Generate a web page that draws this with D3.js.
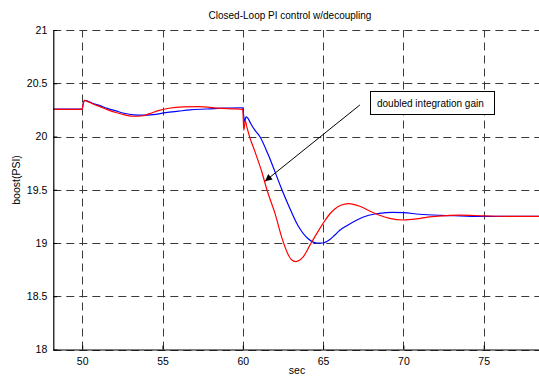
<!DOCTYPE html>
<html>
<head>
<meta charset="utf-8">
<script src="https://cdn.jsdelivr.net/npm/d3@7/dist/d3.min.js"></script>
<style>
  body { margin: 0; background: #fff; }
  text { font-family: "Liberation Sans", Arial, sans-serif; }
</style>
</head>
<body>
<script>
// time axis (sec) and the two boost responses
var tBlue = [48.2, 50.0, 50.05, 50.15, 50.3, 50.6, 51.1, 51.6, 52.1, 52.6, 53.2, 53.8, 54.4, 55.2, 56.0, 56.7, 57.7, 58.8, 59.9, 60.0,
             60.05, 60.12, 60.2, 60.3, 60.5, 60.75, 61.06, 61.58, 62.0, 62.41, 62.83, 63.45, 64.07, 64.6, 65.0, 65.4, 65.73,
             66.04, 66.5, 66.9, 67.3, 67.7, 68.5, 69.3, 70.0, 71.0, 72.3, 73.5, 75.0, 79.0];
var blue = [20.258, 20.258, 20.30, 20.34, 20.335, 20.315, 20.29, 20.262, 20.24, 20.218, 20.203, 20.2, 20.205, 20.224, 20.238, 20.25, 20.258, 20.266, 20.27, 20.27,
            20.2, 20.14, 20.185, 20.175, 20.12, 20.06, 20.0, 19.83, 19.67, 19.51, 19.36, 19.16, 19.04, 19.0, 19.0, 19.03, 19.075,
            19.12, 19.165, 19.2, 19.23, 19.254, 19.278, 19.288, 19.285, 19.27, 19.26, 19.255, 19.25, 19.25];

var tRed = [48.2, 50.0, 50.05, 50.15, 50.3, 50.6, 51.1, 51.6, 52.1, 52.6, 53.2, 53.8, 54.2, 54.8, 55.4, 56.3, 57.3, 58.4, 59.3, 60.0,
            60.06, 60.15, 60.25, 60.44, 60.75, 61.2, 61.5, 62.0, 62.41, 62.83, 63.05, 63.3, 63.55, 63.76, 64.18, 64.49, 65.0, 65.4,
            65.73, 66.1, 66.6, 67.28, 67.9, 68.52, 69.14, 69.97, 70.8, 71.6, 72.9, 73.5, 75.0, 76.5, 79.0];
var red = [20.255, 20.255, 20.30, 20.34, 20.33, 20.31, 20.28, 20.25, 20.225, 20.205, 20.19, 20.195, 20.215, 20.245, 20.265, 20.278, 20.28, 20.267, 20.26, 20.255,
           20.06, 20.15, 20.09, 19.99, 19.86, 19.66, 19.5, 19.28, 19.06, 18.89, 18.84, 18.825, 18.84, 18.87, 18.98, 19.06, 19.185, 19.27,
           19.32, 19.355, 19.37, 19.345, 19.3, 19.26, 19.232, 19.216, 19.226, 19.245, 19.26, 19.262, 19.255, 19.25, 19.25];

var xTicks = [50, 55, 60, 65, 70, 75];
var yTicks = [18, 18.5, 19, 19.5, 20, 20.5, 21];
var yTickLabels = ["18", "18.5", "19", "19.5", "20", "20.5", "21"];

var titleText = "Closed-Loop PI control w/decoupling";
var xLabel = "sec", yLabel = "boost(PSI)";
var noteText = "doubled integration gain";
var noteHead = [61.38, 19.58], noteTail = [67.29, 20.296];

var width = 539, height = 377;

var x = d3.scaleLinear().domain([48.2, 79]).range([53.3, 53.3 + 30.8 * 16.06]);
var y = d3.scaleLinear().domain([18, 21]).range([349.5, 30]);

var svg = d3.select("body").append("svg")
    .attr("width", width)
    .attr("height", height);

svg.append("defs").append("marker")
    .attr("id", "head")
    .attr("viewBox", "0 0 10 10")
    .attr("refX", 10).attr("refY", 5)
    .attr("markerWidth", 9).attr("markerHeight", 7)
    .attr("markerUnits", "userSpaceOnUse")
    .attr("orient", "auto")
  .append("path")
    .attr("d", "M0,0L10,5L0,10z")
    .attr("fill", "#000");

// grid
var grid = svg.append("g")
    .attr("stroke", "#3a3a3a")
    .attr("stroke-width", 1)
    .attr("stroke-dasharray", "8,5");

grid.selectAll(".gx")
    .data(xTicks.concat([80]))
    .enter().append("line")
    .attr("x1", function(d) { return Math.round(x(d)) + 0.5; })
    .attr("x2", function(d) { return Math.round(x(d)) + 0.5; })
    .attr("y1", y(18)).attr("y2", y(21));

grid.selectAll(".gy")
    .data(yTicks)
    .enter().append("line")
    .attr("x1", x.range()[0]).attr("x2", x.range()[1])
    .attr("y1", function(d) { return Math.round(y(d)) + 0.5; })
    .attr("y2", function(d) { return Math.round(y(d)) + 0.5; });

// lines
var line = d3.line()
    .x(function(d) { return x(d[0]); })
    .y(function(d) { return y(d[1]); })
    .curve(d3.curveMonotoneX);

svg.append("path")
    .datum(d3.zip(tBlue, blue))
    .attr("fill", "none")
    .attr("stroke", "#0000ff")
    .attr("stroke-width", 1.2)
    .attr("d", line);

svg.append("path")
    .datum(d3.zip(tRed, red))
    .attr("fill", "none")
    .attr("stroke", "#ff0000")
    .attr("stroke-width", 1.2)
    .attr("d", line);

// axes
var xAxis = d3.axisBottom(x).tickValues(xTicks).tickSizeInner(-4).tickSizeOuter(0).tickPadding(8);
var yAxis = d3.axisLeft(y).tickValues(yTicks)
    .tickFormat(function(d, i) { return yTickLabels[i]; })
    .tickSizeInner(-4).tickSizeOuter(0).tickPadding(6);

var gx = svg.append("g")
    .attr("transform", "translate(0," + y(18) + ")")
    .call(xAxis);
var gy = svg.append("g")
    .attr("transform", "translate(" + x(48.2) + ",0)")
    .call(yAxis);

[gx, gy].forEach(function(g) {
    g.select(".domain").attr("stroke", "#000").attr("stroke-width", 1.2);
    g.selectAll(".tick line").attr("stroke", "#000");
    g.selectAll(".tick text").attr("font-size", 10.5).attr("fill", "#000")
        .attr("font-family", "'Liberation Sans', Arial, sans-serif");
});

// labels
svg.append("text")
    .attr("x", 290).attr("y", 18.5)
    .attr("text-anchor", "middle")
    .attr("font-size", 10)
    .text(titleText);

svg.append("text")
    .attr("x", 297).attr("y", 374)
    .attr("text-anchor", "middle")
    .attr("font-size", 10.5)
    .text(xLabel);

svg.append("text")
    .attr("transform", "translate(20,180) rotate(-90)")
    .attr("text-anchor", "middle")
    .attr("font-size", 10.5)
    .text(yLabel);

// annotation
svg.append("line")
    .attr("x1", x(noteTail[0])).attr("y1", y(noteTail[1]))
    .attr("x2", x(noteHead[0])).attr("y2", y(noteHead[1]))
    .attr("stroke", "#000")
    .attr("stroke-width", 1)
    .attr("marker-end", "url(#head)");

svg.append("rect")
    .attr("x", 370.5).attr("y", 91.5)
    .attr("width", 124).attr("height", 23)
    .attr("fill", "#fff")
    .attr("stroke", "#000");

svg.append("text")
    .attr("x", 377).attr("y", 106.5)
    .attr("font-size", 10)
    .text(noteText);
</script>
</body>
</html>
